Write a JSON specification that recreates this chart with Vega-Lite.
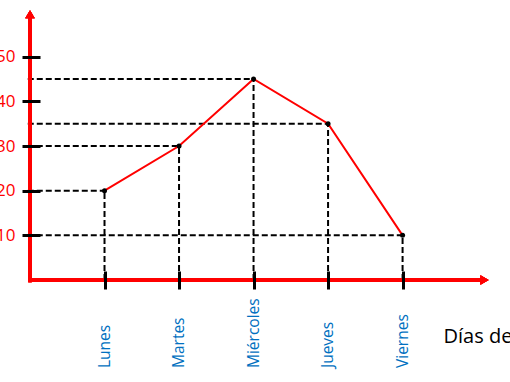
{
  "$schema": "https://vega.github.io/schema/vega-lite/v6.json",
  "autosize": "none",
  "width": 462,
  "height": 268,
  "padding": {"left": 30, "top": 12, "right": 18, "bottom": 102},
  "background": "white",
  "config": {"view": {"stroke": null}, "font": "Open Sans"},
  "data": {"values": [
    {"dia": "Lunes", "n": 1, "valor": 20},
    {"dia": "Martes", "n": 2, "valor": 30},
    {"dia": "Miércoles", "n": 3, "valor": 45},
    {"dia": "Jueves", "n": 4, "valor": 35},
    {"dia": "Viernes", "n": 5, "valor": 10}
  ]},
  "encoding": {
    "x": {"field": "n", "type": "quantitative", "scale": {"domain": [0, 6.2], "nice": false, "zero": false},
      "axis": {"orient": "bottom", "values": [1, 2, 3, 4, 5], "offset": -9, "tickSize": 18, "tickWidth": 3, "tickColor": "black",
        "domain": false, "grid": false, "labels": false, "zindex": 2,
        "title": "Días de la semana", "titleX": 413, "titleY": 71, "titleAlign": "left", "titleAnchor": null, "titleBaseline": "alphabetic",
        "titleFontSize": 20, "titleFontWeight": "normal", "titleColor": "black", "titleFont": "Open Sans"}},
    "y": {"field": "valor", "type": "quantitative", "scale": {"domain": [0, 60], "nice": false},
      "axis": {"orient": "left", "values": [10, 20, 30, 40, 50], "offset": -10, "tickSize": 18, "tickWidth": 3, "tickColor": "black",
        "domain": false, "grid": false, "labelPadding": 7, "labelColor": "red", "labelFontSize": 17, "labelFont": "Open Sans", "title": null, "zindex": 2}}
  },
  "layer": [
    {"mark": {"type": "rule", "color": "black", "strokeWidth": 2, "strokeDash": [6, 3]},
      "encoding": {"x": {"datum": -0.03}, "x2": {"field": "n"}}},
    {"mark": {"type": "rule", "color": "black", "strokeWidth": 2, "strokeDash": [6, 3]},
      "encoding": {"y": {"datum": 0}, "y2": {"field": "valor"}}},
    {"mark": {"type": "rule", "color": "red", "strokeWidth": 3.5},
      "encoding": {"x": {"datum": 0}, "y": {"datum": -0.5}, "y2": {"datum": 59.5}}},
    {"mark": {"type": "rule", "color": "red", "strokeWidth": 3.5},
      "encoding": {"x": {"datum": -0.02}, "x2": {"datum": 6.1}, "y": {"datum": 0}}},
    {"mark": {"type": "point", "shape": "triangle-up", "filled": true, "color": "red", "size": 90, "opacity": 1},
      "encoding": {"x": {"datum": 0}, "y": {"datum": 59.5}}},
    {"mark": {"type": "point", "shape": "triangle-right", "filled": true, "color": "red", "size": 90, "opacity": 1},
      "encoding": {"x": {"datum": 6.1}, "y": {"datum": 0}}},
    {"mark": {"type": "line", "color": "red", "strokeWidth": 2}},
    {"mark": {"type": "point", "filled": true, "color": "black", "size": 25, "opacity": 1}},
    {"mark": {"type": "text", "angle": 270, "align": "left", "baseline": "middle", "yOffset": 88, "color": "#0070C0", "fontSize": 15.5, "font": "Open Sans"},
      "encoding": {"y": {"datum": 0}, "text": {"field": "dia"}}}
  ]
}
